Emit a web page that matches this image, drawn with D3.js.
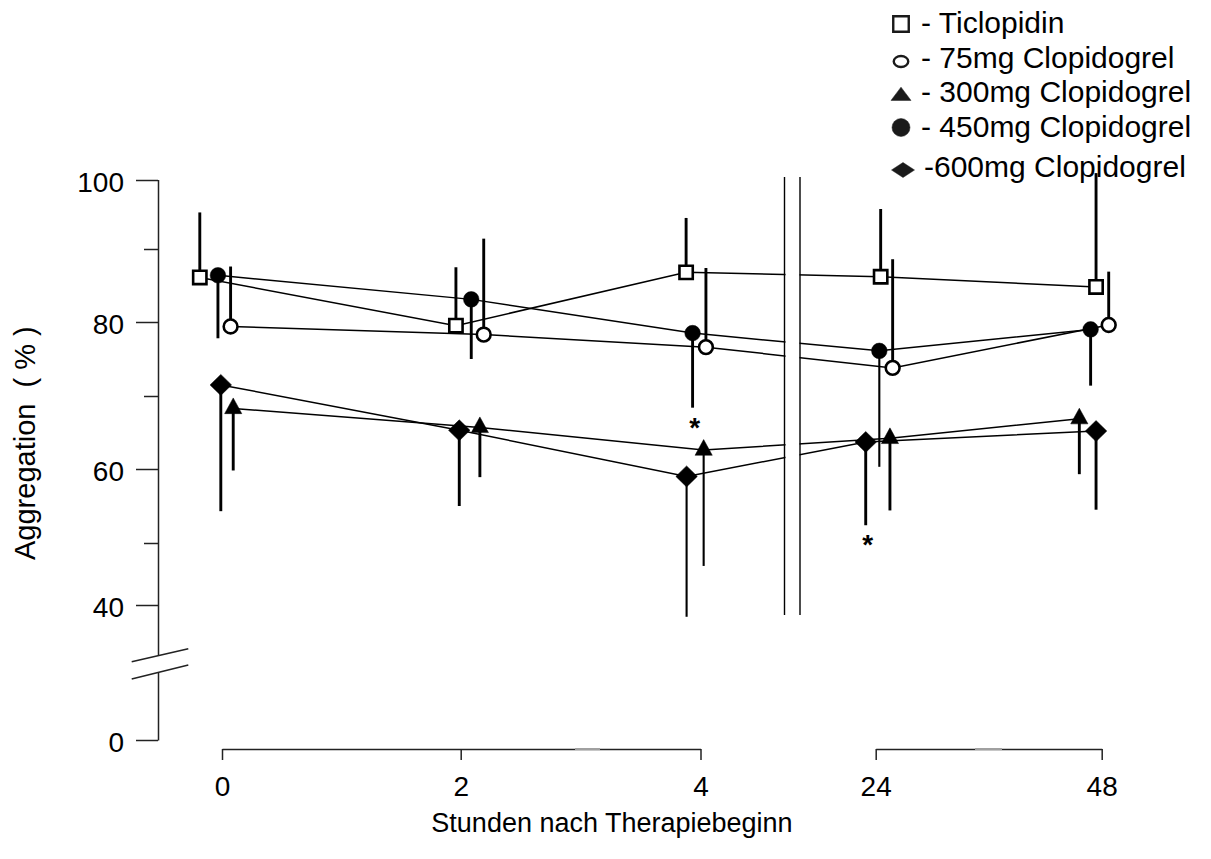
<!DOCTYPE html>
<html>
<head>
<meta charset="utf-8">
<script src="https://cdn.jsdelivr.net/npm/d3@7"></script>
<style>
  body { margin: 0; background: #fff; }
  svg text { font-family: "Liberation Sans", Arial, sans-serif; fill: #000; }
</style>
</head>
<body>
<svg id="chart" width="1211" height="859"></svg>
<script>
// hours after start of therapy
const timeLabels = ['0', '2', '4', '24', '48'];
const seriesNames = ['Ticlopidin', '75mg Clopidogrel', '300mg Clopidogrel', '450mg Clopidogrel', '600mg Clopidogrel'];
const legendPrefix = ['- ', '- ', '- ', '- ', '-'];

// each mark sits a little left/right of its time slot, so x is in slot units
const ticX = [-0.093, 0.980, 1.940, 3.022, 3.975];
const ticMean = [86.1, 79.5, 86.8, 86.2, 84.8];
const ticSd = [9.2, 8.0, 7.7, 9.6, 16.2];

const c75X = [0.036, 1.096, 2.031, 3.075, 4.031];
const c75Mean = [79.4, 78.3, 76.6, 73.8, 79.6];
const c75Sd = [8.2, 13.2, 10.8, 14.8, 7.3];

const c300X = [0.047, 1.080, 2.018, 3.063, 3.901];
const c300Mean = [68.3, 65.7, 62.6, 64.2, 66.9];
const c300Sd = [8.5, 6.8, 16.3, 9.8, 7.6];

const c450X = [-0.017, 1.044, 1.967, 3.016, 3.951];
const c450Mean = [86.4, 83.1, 78.5, 76.1, 79.0];
const c450Sd = [8.6, 8.1, 10.1, 15.8, 7.6];

const c600X = [-0.005, 0.994, 1.942, 2.943, 3.975];
const c600Mean = [71.5, 65.3, 59.0, 63.7, 65.2];
const c600Sd = [17.2, 10.3, 20.9, 11.3, 10.7];

const yTicksMajor = [40, 60, 80, 100];
const yTicksMinor = [50, 70, 90];
const yTicksLow = [0];
// significance marks: series index, time index
const stars = [[3, 2], [4, 3]];

const series = [
    { x: ticX, mean: ticMean, sd: ticSd, up: true, shape: 'square', filled: false },
    { x: c75X, mean: c75Mean, sd: c75Sd, up: true, shape: 'circle', filled: false },
    { x: c300X, mean: c300Mean, sd: c300Sd, up: false, shape: 'triangle', filled: true },
    { x: c450X, mean: c450Mean, sd: c450Sd, up: false, shape: 'circle', filled: true },
    { x: c600X, mean: c600Mean, sd: c600Sd, up: false, shape: 'diamond', filled: true }
];
series.forEach((s, k) => { s.name = seriesNames[k]; });

// thinner error bars in the original
const thinBars = new Set(['2|2', '4|2', '3|3']);

const svg = d3.select('#chart');

// time slots are not evenly spaced (axis is broken between 4 and 24)
const x = d3.scaleLinear().domain([0, 1, 2, 3, 4]).range([222, 460.7, 700.5, 875.7, 1101.7]);
// hand-drawn y axis, tick spacing is slightly uneven
const y = d3.scaleLinear().domain([40, 50, 60, 70, 80, 90, 100]).range([605, 543, 469, 396, 322, 249, 180]);
const yLow = d3.scaleLinear().domain([0, 20]).range([740, 673]);

const axisColor = '#222';

// ---- x axis, two pieces
const xSeg1 = d3.scaleLinear().domain([0, 1, 2]).range([x(0), x(1), x(2)]);
const xSeg2 = d3.scaleLinear().domain([3, 4]).range([x(3), x(4)]);
[xSeg1, xSeg2].forEach(s => {
    const g = svg.append('g')
        .attr('transform', 'translate(0,749)')
        .call(d3.axisBottom(s).tickValues(s.domain()).tickFormat(d => timeLabels[d])
            .tickSize(11).tickSizeOuter(0));
    g.select('.domain').attr('stroke', axisColor).attr('stroke-width', 1.5);
    g.selectAll('.tick line').attr('stroke', axisColor).attr('stroke-width', 1.5);
    g.selectAll('.tick text').attr('y', 47).attr('dy', 0)
        .style('font-size', '28px');
});
// faint grey patches on the axis line in the original
svg.append('line').attr('x1', 575).attr('x2', 600).attr('y1', 749).attr('y2', 749)
    .attr('stroke', '#a0a0a0').attr('stroke-width', 2);
svg.append('line').attr('x1', 975).attr('x2', 1002).attr('y1', 749).attr('y2', 749)
    .attr('stroke', '#a0a0a0').attr('stroke-width', 2);

// ---- y axis
const axX = 158;
function yAxisPart(scale, ticks, size, labels) {
    const ax = d3.axisLeft(scale).tickValues(ticks).tickSize(size).tickPadding(12);
    if (!labels) ax.tickFormat('');
    const g = svg.append('g').attr('transform', `translate(${axX},0)`).call(ax);
    g.select('.domain').remove();
    g.selectAll('.tick line').attr('stroke', axisColor).attr('stroke-width', 1.5);
    g.selectAll('.tick text').attr('dy', '0.4em').style('font-size', '28px');
}
yAxisPart(y, yTicksMajor, 22, true);
yAxisPart(y, yTicksMinor, 14, false);
yAxisPart(yLow, yTicksLow, 22, true);

const breakTop = 655, breakBottom = 673;
svg.append('path')
    .attr('d', `M${axX + 0.5},${y(100)}V${breakTop}M${axX + 0.5},${breakBottom}V${yLow(0) + 0.5}`)
    .attr('stroke', axisColor).attr('stroke-width', 1.5).attr('fill', 'none');
svg.append('path')
    .attr('d', 'M131.7,661.7L188.3,648.7M131.7,679L188.3,665')
    .attr('stroke', axisColor).attr('stroke-width', 1.5).attr('fill', 'none');

// ---- marks
function shapePath(type, w, h) {
    if (type === 'square') return `M${-w / 2},${-h / 2}h${w}v${h}h${-w}Z`;
    if (type === 'circle') {
        const rx = w / 2, ry = h / 2;
        return `M${-rx},0A${rx},${ry} 0 1,0 ${rx},0A${rx},${ry} 0 1,0 ${-rx},0Z`;
    }
    if (type === 'triangle') return `M0,${-2 * h / 3}L${w / 2},${h / 3}L${-w / 2},${h / 3}Z`;
    return `M0,${-h / 2}L${w / 2},0L0,${h / 2}L${-w / 2},0Z`;
}
const plotSize = {
    square: [13.3, 13.3], circleOpen: [13.8, 13.8], circleFilled: [15.6, 15.6],
    triangle: [17.2, 15.7], diamond: [21.5, 21]
};
function sizeKey(s) {
    if (s.shape === 'circle') return s.filled ? 'circleFilled' : 'circleOpen';
    return s.shape;
}

const line = d3.line().x(d => x(d.x)).y(d => y(d.v));
const pts = s => s.mean.map((v, i) => ({ x: s.x[i], v: v, sd: s.sd[i], i: i }));

const gLines = svg.append('g');
series.forEach(s => {
    gLines.append('path').datum(pts(s))
        .attr('d', line)
        .attr('fill', 'none').attr('stroke', '#000').attr('stroke-width', 1.5);
});

// break between 4 h and 24 h
svg.append('rect').attr('x', 785.5).attr('y', 170).attr('width', 14).attr('height', 455).attr('fill', '#fff');
[784.5, 800].forEach(px => {
    svg.append('line').attr('x1', px).attr('x2', px).attr('y1', 177).attr('y2', 615)
        .attr('stroke', '#000').attr('stroke-width', 1.4);
});

const gErr = svg.append('g');
series.forEach((s, k) => {
    gErr.selectAll(null).data(pts(s)).enter().append('line')
        .attr('x1', d => x(d.x)).attr('x2', d => x(d.x))
        .attr('y1', d => y(d.v))
        .attr('y2', d => y(s.up ? d.v + d.sd : d.v - d.sd))
        .attr('stroke', '#000')
        .attr('stroke-width', d => thinBars.has(k + '|' + d.i) ? 2.1 : 2.9);
});

const gMarks = svg.append('g');
series.forEach(s => {
    const sz = plotSize[sizeKey(s)];
    gMarks.selectAll(null).data(pts(s)).enter().append('path')
        .attr('transform', d => `translate(${x(d.x)},${y(d.v)})`)
        .attr('d', shapePath(s.shape, sz[0], sz[1]))
        .attr('fill', s.filled ? '#000' : '#fff')
        .attr('stroke', '#000')
        .attr('stroke-width', s.filled ? 0.5 : 2.6);
});

// significance asterisks under the error bars
svg.append('g').selectAll('text').data(stars).enter().append('text')
    .attr('x', d => x(series[d[0]].x[d[1]]) + 2)
    .attr('y', d => {
        const s = series[d[0]], i = d[1];
        return y(s.mean[i] - s.sd[i]) + 29;
    })
    .attr('text-anchor', 'middle')
    .style('font-size', '28px').style('font-weight', 'bold')
    .text('*');

// ---- titles
svg.append('text')
    .attr('transform', 'translate(35,560) rotate(-90)')
    .style('font-size', '29px').style('white-space', 'pre')
    .text('Aggregation  ( % )');
svg.append('text')
    .attr('x', 612).attr('y', 832).attr('text-anchor', 'middle')
    .style('font-size', '27px')
    .text('Stunden nach Therapiebeginn');

// ---- legend
const legendSize = {
    square: [15.5, 15.5], circleOpen: [14.5, 11], circleFilled: [18, 18],
    triangle: [20, 13.3], diamond: [23, 15]
};
const legendBase = [33, 68, 102, 137, 177];
const legendMark = [24, 61.5, 96, 127.5, 170];
const gLeg = svg.append('g');
series.forEach((s, k) => {
    const sz = legendSize[sizeKey(s)];
    gLeg.append('path')
        .attr('transform', `translate(${k === 4 ? 903 : 901},${legendMark[k]})`)
        .attr('d', shapePath(s.shape, sz[0], sz[1]))
        .attr('fill', s.filled ? '#1a1a1a' : '#fff')
        .attr('stroke', '#1a1a1a')
        .attr('stroke-width', s.filled ? 0.5 : 2.4);
    gLeg.append('text')
        .attr('x', k === 4 ? 924 : 921).attr('y', legendBase[k])
        .style('font-size', '30px')
        .text(legendPrefix[k] + s.name);
});
</script>
</body>
</html>
